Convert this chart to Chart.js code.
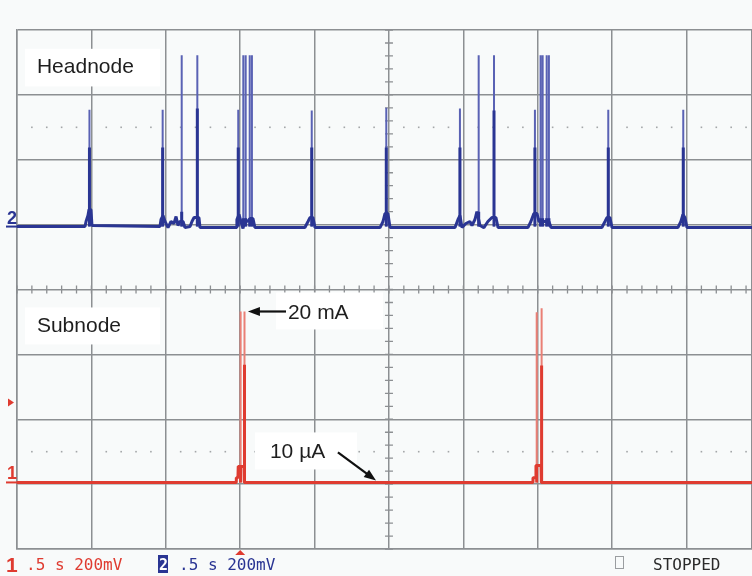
<!DOCTYPE html>
<html lang="en">
<head>
<meta charset="UTF-8">
<title>Headnode / Subnode supply current</title>
<script src="https://cdn.jsdelivr.net/npm/chart.js"></script>
<style>
  body { margin: 0; background: #f8fafa; }
  canvas { display: block; }
</style>
</head>
<body>
<canvas id="scope" width="752" height="576"></canvas>
<script>
// time in seconds (0.5 s/div), level in screen divisions
const headBaseT = [0, 0.457, 0.464, 0.477, 0.484, 0.497, 0.504,
  0.961, 0.968, 0.981, 0.995, 1.015, 1.035, 1.055, 1.069, 1.082, 1.095, 1.116, 1.129, 1.163, 1.176, 1.19, 1.223, 1.23,
  1.472, 1.478, 1.492, 1.505, 1.519, 1.532, 1.552, 1.566, 1.586, 1.599,
  1.935, 1.956, 1.969, 1.989, 2.003,
  2.44, 2.46, 2.473, 2.493, 2.507,
  2.944, 2.964, 2.977, 2.991, 3.017, 3.044, 3.058, 3.078, 3.091, 3.112, 3.138, 3.165, 3.192, 3.219, 3.233,
  3.434, 3.454, 3.474, 3.495, 3.508, 3.575, 3.589,
  3.931, 3.952, 3.965, 3.985, 3.999,
  4.442, 4.462, 4.476, 4.489, 4.503, 4.94];
const headBaseV = [0.971, 0.971, 1.048, 1.14, 1.233, 1.233, 0.986,
  0.971, 1.079, 1.14, 1.048, 0.955, 1.048, 1.017, 1.125, 0.986, 1.048, 1.048, 0.955, 0.971, 1.048, 1.109, 1.109, 0.955,
  0.955, 1.079, 1.156, 1.048, 0.94, 1.079, 1.048, 1.094, 1.094, 0.955,
  0.955, 1.048, 1.109, 1.109, 0.955,
  0.955, 1.048, 1.171, 1.171, 0.955,
  0.955, 1.079, 1.14, 0.955, 1.017, 1.048, 0.986, 1.079, 1.202, 0.986, 0.955, 1.048, 1.109, 1.109, 0.955,
  0.955, 1.048, 1.171, 1.171, 1.048, 1.048, 0.955,
  0.955, 1.048, 1.109, 1.109, 0.955,
  0.955, 1.048, 1.156, 1.109, 0.955, 0.955];
const headSpikeT = [0.487, 0.979, 1.107, 1.212, 1.487, 1.521, 1.537, 1.564, 1.579, 1.981, 2.482,
  2.977, 3.103, 3.206, 3.481, 3.519, 3.533, 3.560, 3.575, 3.974, 4.478];
const headSpikeTop = [2.77, 2.77, 3.61, 3.61, 2.77, 3.61, 3.61, 3.61, 3.61, 2.76, 2.80,
  2.79, 3.61, 3.61, 2.77, 3.61, 3.61, 3.61, 3.61, 2.77, 2.77];
const headSpikeDark = [2.19, 2.19, 1.2, 2.79, 2.19, 1.1, 1.1, 1.1, 1.1, 2.19, 2.19,
  2.19, 1.2, 2.76, 2.19, 1.1, 1.1, 1.1, 1.1, 2.19, 2.19];

const subBaseT = [0, 1.472, 1.474, 1.485, 1.487, 1.526, 1.528, 3.466, 3.468, 3.486, 3.488, 3.522, 3.524, 4.94];
const subBaseV = [-2.974, -2.974, -2.9, -2.9, -2.727, -2.727, -2.974, -2.974, -2.9, -2.9, -2.712, -2.712, -2.974, -2.974];
const subSpikeT = [1.503, 1.529, 3.493, 3.526];
const subSpikeTop = [-0.34, -0.34, -0.35, -0.29];
const subSpikeDark = [-2.73, -1.16, -2.71, -1.17];

const headLevel = 0.97;   // channel 2 ground marker
const subLevel = -2.974;  // channel 1 ground marker
const trigLevel = -1.74;
const trigTime = 1.5;

function points(ts, vs) {
  return ts.map((t, i) => ({ x: t, y: vs[i] }));
}
function spikes(ts, tops, base) {
  const out = [];
  ts.forEach((t, i) => {
    out.push({ x: t, y: base }, { x: t, y: tops[i] }, { x: t, y: null });
  });
  return out;
}

const blue = '#2a3593', blueLight = '#5a62b4';
const red = '#df3b30', redLight = '#ea7f75';

function arrow(ctx, x1, y1, x2, y2) {
  const a = Math.atan2(y2 - y1, x2 - x1);
  ctx.beginPath();
  ctx.moveTo(x1, y1);
  ctx.lineTo(x2 - 9 * Math.cos(a), y2 - 9 * Math.sin(a));
  ctx.stroke();
  ctx.beginPath();
  ctx.moveTo(x2, y2);
  ctx.lineTo(x2 - 12 * Math.cos(a) + 4.5 * Math.sin(a), y2 - 12 * Math.sin(a) - 4.5 * Math.cos(a));
  ctx.lineTo(x2 - 12 * Math.cos(a) - 4.5 * Math.sin(a), y2 - 12 * Math.sin(a) + 4.5 * Math.cos(a));
  ctx.closePath();
  ctx.fill();
}

const scopeDecor = {
  id: 'scopeDecor',
  beforeDraw(chart) {
    const ctx = chart.ctx;
    ctx.save();
    ctx.fillStyle = '#f8fafa';
    ctx.fillRect(0, 0, chart.width, chart.height);
    ctx.restore();
  },
  beforeDatasetsDraw(chart) {
    const { ctx, scales: { x, y } } = chart;
    ctx.save();
    ctx.strokeStyle = '#8c8f92';
    ctx.lineWidth = 1.3;
    const cx = x.getPixelForValue(2.5), cy = y.getPixelForValue(0);
    ctx.beginPath();
    for (let i = -20; i <= 20; i++) {
      const py = y.getPixelForValue(i * 0.2);
      ctx.moveTo(cx - 4, py); ctx.lineTo(cx + 4, py);
    }
    for (let i = 0; i <= 49; i++) {
      const px = x.getPixelForValue(i * 0.1);
      ctx.moveTo(px, cy - 4); ctx.lineTo(px, cy + 4);
    }
    ctx.stroke();
    ctx.fillStyle = '#a3a6a8';
    [2.5, -2.5].forEach(v => {
      const py = y.getPixelForValue(v);
      for (let i = 1; i <= 49; i++) {
        if (i % 5 === 0) continue;
        const px = x.getPixelForValue(i * 0.1);
        ctx.fillRect(px - 0.8, py - 0.8, 1.6, 1.6);
      }
    });
    ctx.restore();
  },
  afterDraw(chart) {
    const { ctx, scales: { x, y } } = chart;
    ctx.save();
    // labels with white boxes
    const box = (t0, t1, v0, v1) => {
      ctx.fillStyle = '#ffffff';
      const px0 = x.getPixelForValue(t0), px1 = x.getPixelForValue(t1);
      const py0 = y.getPixelForValue(v0), py1 = y.getPixelForValue(v1);
      ctx.fillRect(px0, py0, px1 - px0, py1 - py0);
    };
    const label = (txt, t, v) => {
      ctx.fillStyle = '#1e1e1e';
      ctx.font = '21px "Liberation Sans", Arial, sans-serif';
      ctx.textBaseline = 'middle';
      ctx.textAlign = 'left';
      ctx.fillText(txt, x.getPixelForValue(t), y.getPixelForValue(v));
    };
    box(0.054, 0.961, 3.71, 3.13);
    label('Headnode', 0.134, 3.42);
    box(0.054, 0.961, -0.277, -0.847);
    label('Subnode', 0.134, -0.57);
    box(1.741, 2.46, -0.046, -0.616);
    label('20 mA', 1.821, -0.36);
    box(1.599, 2.285, -2.203, -2.774);
    label('10 µA', 1.7, -2.51);

    ctx.strokeStyle = '#111';
    ctx.fillStyle = '#111';
    ctx.lineWidth = 2.2;
    arrow(ctx, x.getPixelForValue(1.808), y.getPixelForValue(-0.339), x.getPixelForValue(1.552), y.getPixelForValue(-0.339));
    arrow(ctx, x.getPixelForValue(2.157), y.getPixelForValue(-2.51), x.getPixelForValue(2.413), y.getPixelForValue(-2.943));

    // channel ground markers
    const left = chart.chartArea.left;
    let py = y.getPixelForValue(headLevel);
    ctx.fillStyle = blue;
    ctx.strokeStyle = blue;
    ctx.font = 'bold 18px "Liberation Sans", Arial, sans-serif';
    ctx.textBaseline = 'alphabetic';
    ctx.fillText('2', 7, py - 3);
    ctx.lineWidth = 2;
    ctx.beginPath(); ctx.moveTo(6, py); ctx.lineTo(left, py); ctx.stroke();

    py = y.getPixelForValue(subLevel);
    ctx.fillStyle = red;
    ctx.strokeStyle = red;
    ctx.fillText('1', 7, py - 3);
    ctx.beginPath(); ctx.moveTo(6, py); ctx.lineTo(left, py); ctx.stroke();

    // trigger level and position markers
    py = y.getPixelForValue(trigLevel);
    ctx.beginPath(); ctx.moveTo(8, py - 4); ctx.lineTo(14, py); ctx.lineTo(8, py + 4); ctx.closePath(); ctx.fill();
    const tx = x.getPixelForValue(trigTime), bottom = chart.chartArea.bottom;
    ctx.beginPath(); ctx.moveTo(tx, bottom + 1); ctx.lineTo(tx + 5, bottom + 6); ctx.lineTo(tx - 5, bottom + 6); ctx.closePath(); ctx.fill();

    // status line
    ctx.font = 'bold 21px "Liberation Sans", Arial, sans-serif';
    ctx.fillText('1', 6, 572);
    ctx.font = '16px "DejaVu Sans Mono", monospace';
    ctx.fillText('.5 s 200mV', 26, 570);
    ctx.fillStyle = blue;
    ctx.fillRect(158, 555, 10, 18);
    ctx.fillStyle = '#ffffff';
    ctx.font = 'bold 15px "DejaVu Sans Mono", monospace';
    ctx.fillText('2', 159, 570);
    ctx.fillStyle = blue;
    ctx.font = '16px "DejaVu Sans Mono", monospace';
    ctx.fillText('.5 s 200mV', 179, 570);
    ctx.strokeStyle = '#9a9da0';
    ctx.lineWidth = 1;
    ctx.strokeRect(615.5, 556.5, 8, 12);
    ctx.fillStyle = '#2a2a2a';
    ctx.fillText('STOPPED', 653, 570);
    ctx.restore();
  }
};

new Chart(document.getElementById('scope'), {
  type: 'line',
  data: {
    datasets: [
      { data: points(headBaseT, headBaseV), borderColor: blue, borderWidth: 3, order: 1 },
      { data: spikes(headSpikeT, headSpikeDark, headLevel), borderColor: blue, borderWidth: 3, order: 2 },
      { data: spikes(headSpikeT, headSpikeTop, headLevel), borderColor: blueLight, borderWidth: 2, order: 3 },
      { data: points(subBaseT, subBaseV), borderColor: red, borderWidth: 3, order: 1 },
      { data: spikes(subSpikeT, subSpikeDark, subLevel), borderColor: red, borderWidth: 3, order: 2 },
      { data: spikes(subSpikeT, subSpikeTop, subLevel), borderColor: redLight, borderWidth: 2, order: 3 }
    ]
  },
  options: {
    responsive: false,
    animation: false,
    events: [],
    layout: { padding: { left: 17, top: 30, right: 0, bottom: 27 } },
    elements: { point: { radius: 0 }, line: { tension: 0, borderJoinStyle: 'bevel' } },
    plugins: { legend: { display: false }, tooltip: { enabled: false } },
    scales: {
      x: {
        type: 'linear', min: 0, max: 4.94,
        ticks: { display: false, stepSize: 0.5 },
        grid: { color: '#8c8f92', lineWidth: 1.5, drawTicks: false },
        border: { color: '#8c8f92', width: 1.5 }
      },
      y: {
        min: -4, max: 4,
        ticks: { display: false, stepSize: 1 },
        grid: { color: '#8c8f92', lineWidth: 1.5, drawTicks: false },
        border: { color: '#8c8f92', width: 1.5 }
      }
    }
  },
  plugins: [scopeDecor]
});
</script>
</body>
</html>
